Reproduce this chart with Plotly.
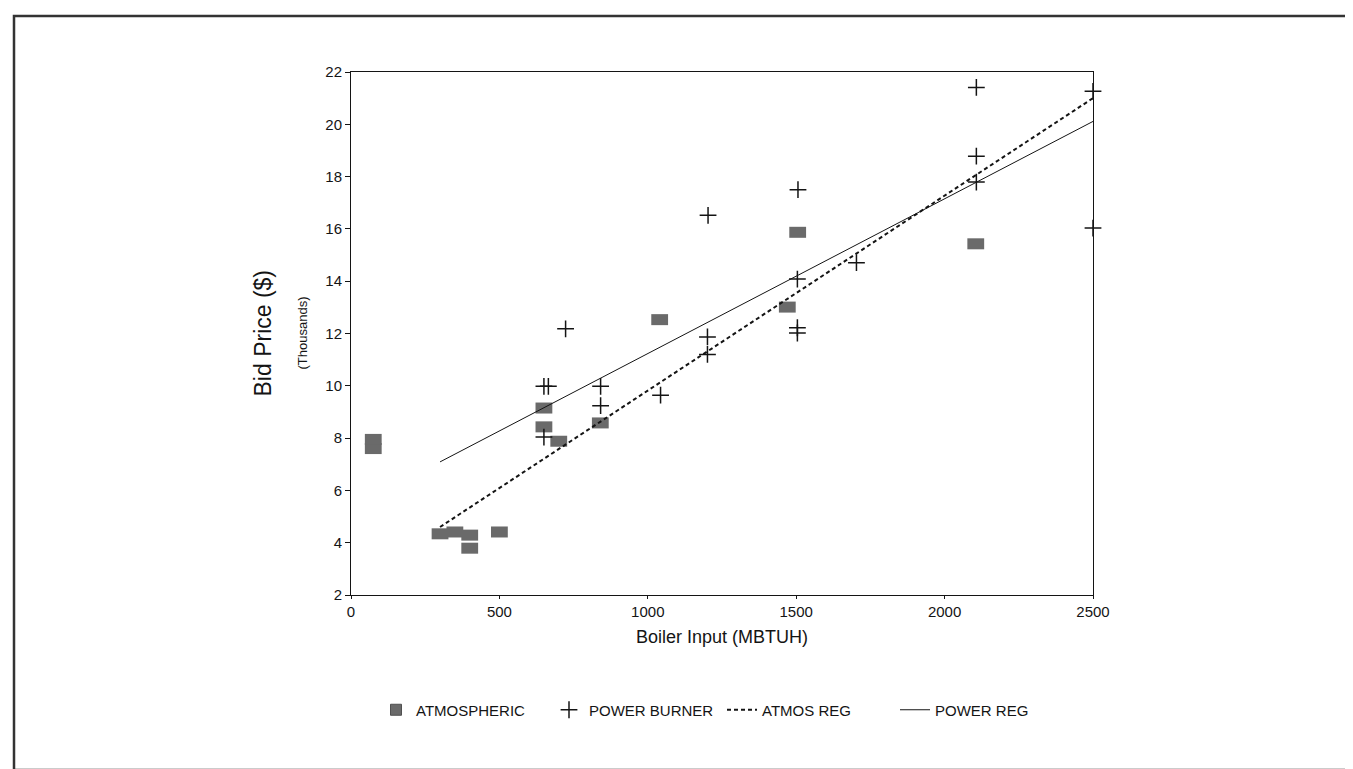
import plotly.graph_objects as go

# ---- data ----
atmos_x = [75, 75, 300, 350, 400, 400, 500, 650, 650, 700, 840, 1040, 1470, 1505, 2105]
atmos_y = [7.6, 7.95, 4.34, 4.41, 4.29, 3.79, 4.41, 9.15, 8.43, 7.88, 8.58, 12.53, 13.01, 15.87, 15.43]

power_x = [650, 665, 650, 723, 841, 841, 1043, 1201, 1201, 1203, 1504, 1504, 1504, 1506, 1703, 2107, 2107, 2107, 2500, 2500]
power_y = [9.98, 9.98, 8.04, 12.18, 9.98, 9.24, 9.64, 11.87, 11.2, 16.52, 14.08, 12.22, 12.02, 17.5, 14.71, 21.41, 18.78, 17.79, 21.26, 16.03]

reg_x = [300, 2500]
atmos_reg_y = [4.6, 21.0]
power_reg_y = [7.09, 20.11]

x_ticks = [0, 500, 1000, 1500, 2000, 2500]
y_ticks = [2, 4, 6, 8, 10, 12, 14, 16, 18, 20, 22]

W, H = 1353, 769
L, R, T, B = 343, 1085, 64, 587  # plot area in px


def px(x):
    return (x - L) / (R - L)


def py(y):
    return (B - y) / (B - T)


font = "Liberation Sans, Arial, sans-serif"
INK = "#141414"
GRAY = "#6a6a6a"

fig = go.Figure()
# atmospheric points: small grey rectangles
fig.add_trace(go.Scatter(
    x=atmos_x, y=atmos_y, mode="markers", name="ATMOSPHERIC",
    showlegend=False, cliponaxis=False,
    marker=dict(symbol="line-ew", size=12, color=GRAY, line=dict(color=GRAY, width=11)),
))
fig.add_trace(go.Scatter(
    x=[None], y=[None], mode="markers", name="ATMOSPHERIC",
    marker=dict(symbol="square", size=11, color=GRAY, line=dict(color="#505050", width=1)),
))
fig.add_trace(go.Scatter(
    x=power_x, y=power_y, mode="markers", name="POWER BURNER", cliponaxis=False,
    marker=dict(symbol="cross-thin", size=12, color=INK, line=dict(color=INK, width=1.5)),
))
fig.add_trace(go.Scatter(
    x=reg_x, y=atmos_reg_y, mode="lines", name="ATMOS REG",
    line=dict(color=INK, width=2, dash="4px,3px"),
))
fig.add_trace(go.Scatter(
    x=reg_x, y=power_reg_y, mode="lines", name="POWER REG",
    line=dict(color=INK, width=1),
))

fig.update_layout(
    width=W, height=H,
    margin=dict(l=L, r=W - R, t=T, b=H - B, autoexpand=False),
    paper_bgcolor="white", plot_bgcolor="white",
    font=dict(family=font, color=INK, size=15),
    showlegend=True,
    legend=dict(orientation="h", xref="container", yref="container",
                x=368 / W, xanchor="left", y=1 - 702 / H, yanchor="middle",
                font=dict(family=font, size=15, color=INK),
                entrywidth=128, entrywidthmode="pixels",
                itemwidth=30, bgcolor="rgba(0,0,0,0)"),
    xaxis=dict(range=[0, 2500], tickvals=x_ticks, ticktext=[str(v) for v in x_ticks],
               showgrid=False, zeroline=False, showline=True, linecolor=INK, linewidth=1,
               mirror=True, ticks="outside", ticklen=3, tickcolor=INK,
               tickfont=dict(size=15)),
    yaxis=dict(range=[2, 22], tickvals=y_ticks, ticktext=[str(v) for v in y_ticks],
               showgrid=False, zeroline=False, showline=True, linecolor=INK, linewidth=1,
               mirror=True, ticks="outside", ticklen=5, tickcolor=INK,
               tickfont=dict(size=15)),
    annotations=[
        dict(text="Boiler Input (MBTUH)", xref="paper", yref="paper", x=px(714), y=py(629),
             showarrow=False, font=dict(size=18), xanchor="center", yanchor="middle"),
        dict(text="Bid Price ($)", xref="paper", yref="paper", x=px(254), y=0.5,
             textangle=-90, showarrow=False, font=dict(size=23), xanchor="center", yanchor="middle"),
        dict(text="(Thousands)", xref="paper", yref="paper", x=px(294), y=0.5,
             textangle=-90, showarrow=False, font=dict(size=13), xanchor="center", yanchor="middle"),
    ],
    shapes=[
        dict(type="rect", xref="paper", yref="paper", x0=px(6), x1=px(1347), y0=py(762), y1=py(8),
             line=dict(color="#333", width=2.5), layer="below"),
    ],
)

fig.write_html("out.html")
